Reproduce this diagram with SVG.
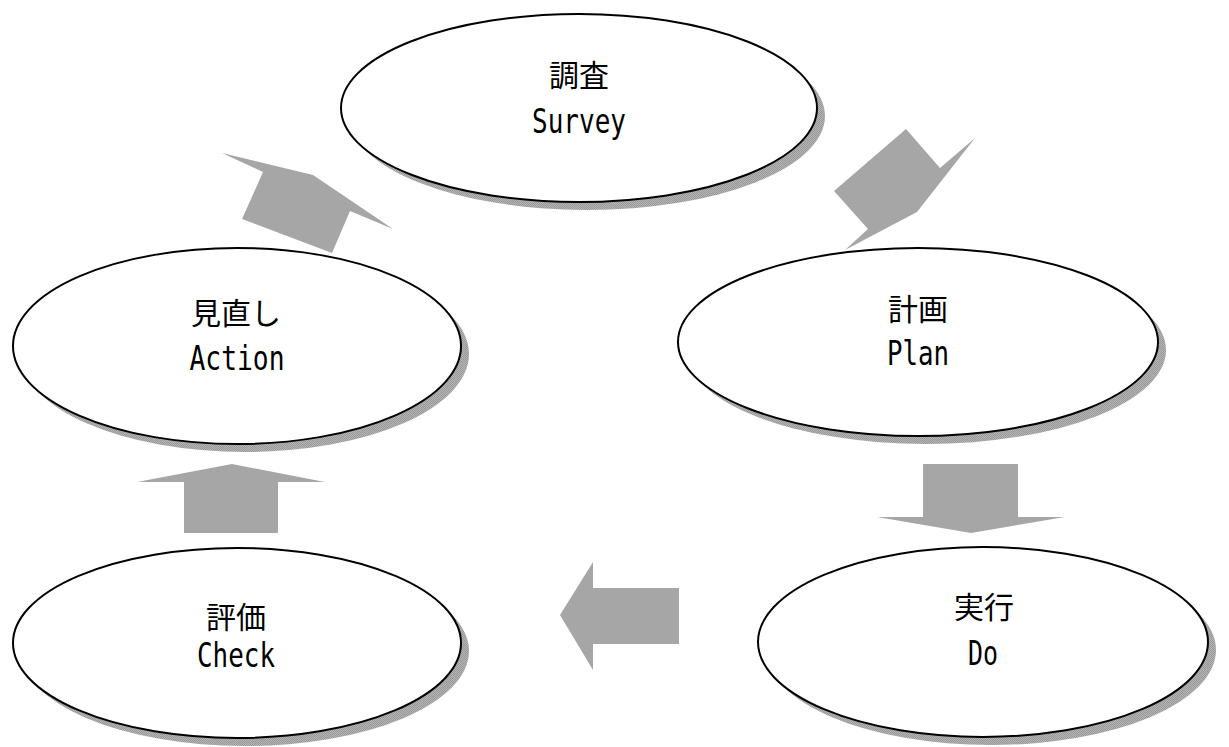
<svg xmlns="http://www.w3.org/2000/svg" width="1229" height="747" viewBox="0 0 1229 747">
  <style>
    .shadow { fill: url(#dots); }
    .node { fill: #ffffff; stroke: #000000; stroke-width: 2; }
    .jp { font-family: "Noto Sans CJK JP", "Noto Sans", sans-serif; font-size: 30px; fill: #000; text-anchor: middle; }
    .en { font-family: "DejaVu Sans Mono", "Liberation Mono", monospace; font-size: 33px; fill: #000; text-anchor: middle; }
    .arrow { fill: #a6a6a6; stroke: none; }
  </style>
  <defs>
    <pattern id="dots" x="0" y="0" width="2" height="2" patternUnits="userSpaceOnUse">
      <rect x="0" y="0" width="2" height="2" fill="#b4b4b4"/>
      <rect x="0" y="0" width="1" height="1" fill="#999999"/>
      <rect x="1" y="1" width="1" height="1" fill="#999999"/>
    </pattern>
  </defs>
  <rect width="1229" height="747" fill="#ffffff"/>

  <g id="connectors">
    <polygon class="arrow" points="242,219 263,172 222,153 313,175 393,229 350,211 332,253"/>
    <polygon class="arrow" points="906,129 940,168 975,138 917,212 845,250 868,229 834,191"/>
    <polygon class="arrow" points="923,464 1018,464 1018,517 1065,517 971,533 877,517 923,517"/>
    <polygon class="arrow" points="679,588 679,644 593,644 593,670 560,615 593,562 593,588"/>
    <polygon class="arrow" points="184,533 184,482 137,482 232,464 325,482 278,482 278,533"/>
  </g>

  <g id="node-survey">
    <ellipse class="shadow" cx="587" cy="116" rx="238" ry="94"/>
    <ellipse class="node" cx="579" cy="108" rx="238" ry="94"/>
    <text class="jp" x="579" y="86">調査</text>
    <text class="en" x="579" y="133" textLength="94" lengthAdjust="spacingAndGlyphs">Survey</text>
  </g>

  <g id="node-plan">
    <ellipse class="shadow" cx="926" cy="350" rx="240" ry="94"/>
    <ellipse class="node" cx="918" cy="342" rx="240" ry="94"/>
    <text class="jp" x="918" y="320">計画</text>
    <text class="en" x="918" y="365" textLength="62" lengthAdjust="spacingAndGlyphs">Plan</text>
  </g>

  <g id="node-action">
    <ellipse class="shadow" cx="245" cy="354" rx="224" ry="98"/>
    <ellipse class="node" cx="237" cy="346" rx="224" ry="98"/>
    <text class="jp" x="236" y="324">見直し</text>
    <text class="en" x="237" y="370" textLength="95" lengthAdjust="spacingAndGlyphs">Action</text>
  </g>

  <g id="node-check">
    <ellipse class="shadow" cx="245" cy="651" rx="224" ry="95"/>
    <ellipse class="node" cx="237" cy="643" rx="224" ry="95"/>
    <text class="jp" x="236" y="628">評価</text>
    <text class="en" x="236" y="667" textLength="78" lengthAdjust="spacingAndGlyphs">Check</text>
  </g>

  <g id="node-do">
    <ellipse class="shadow" cx="991" cy="650" rx="225" ry="95"/>
    <ellipse class="node" cx="983" cy="642" rx="225" ry="95"/>
    <text class="jp" x="984" y="618">実行</text>
    <text class="en" x="983" y="665" textLength="30" lengthAdjust="spacingAndGlyphs">Do</text>
  </g>
</svg>
